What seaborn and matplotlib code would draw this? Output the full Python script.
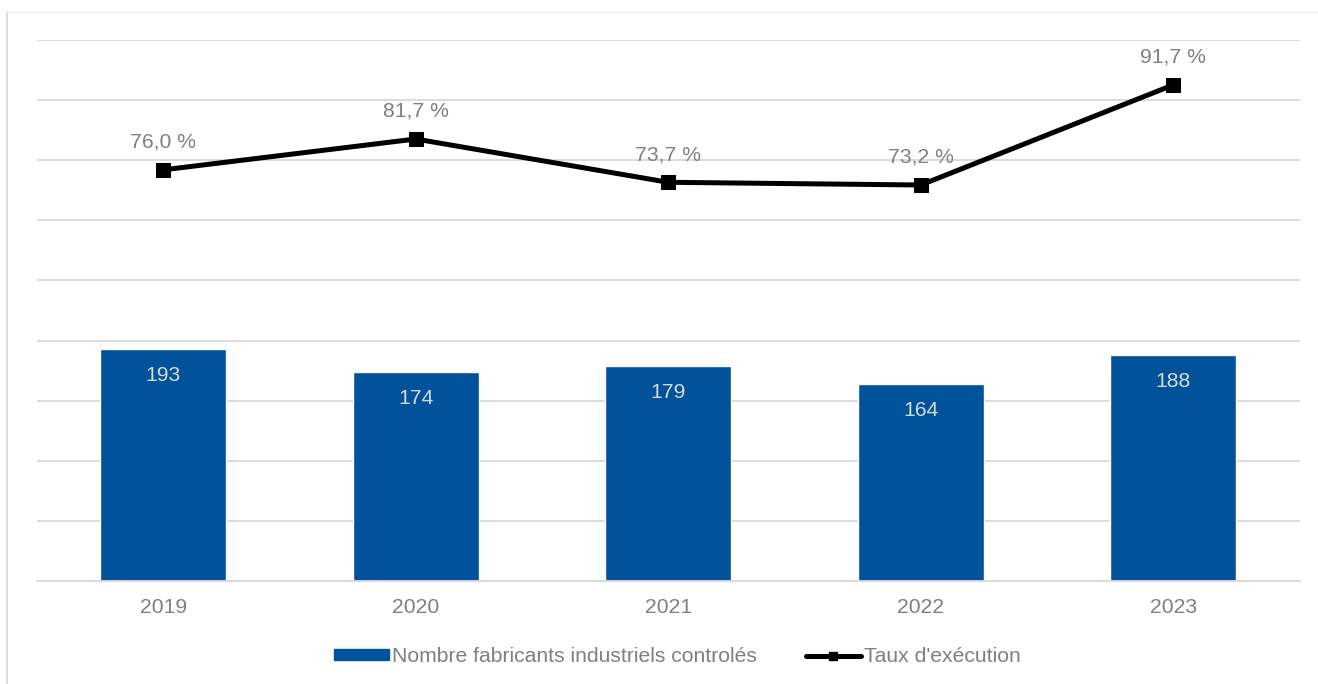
import pandas as pd
import numpy as np
import matplotlib.pyplot as plt
import seaborn as sns
from matplotlib.lines import Line2D
from matplotlib.patches import Patch

annees = ["2019", "2020", "2021", "2022", "2023"]
fabricants = [193, 174, 179, 164, 188]
taux = [76.0, 81.7, 73.7, 73.2, 91.7]

bleu = "#00539B"
gris = "#7F7F86"
fs = 15.2

sns.set_style("white")
plt.rcParams['font.family'] = ['Liberation Sans', 'DejaVu Sans']

fig = plt.figure(figsize=(13.18, 6.84), dpi=100)
ax = fig.add_axes([0.028, 0.1506, 0.958, 0.7909])

df = pd.DataFrame({"annee": annees, "fabricants": fabricants, "taux": taux})
sns.barplot(data=df, x="annee", y="fabricants", color=bleu, width=0.5,
            saturation=1, ax=ax, zorder=2)
ax.set_xlim(-0.5, len(annees) - 0.5)
ax.set_ylim(0, 450)
ax.set_yticks(np.arange(0, 451, 50))
ax.yaxis.grid(True, color="#D9D9D9", linewidth=1.3, zorder=0)
ax.set_axisbelow(True)
ax.tick_params(axis="y", left=False, labelleft=False, length=0)
ax.tick_params(axis="x", bottom=False, labelsize=fs, labelcolor=gris, pad=12, length=0)
ax.set_xlabel("")
ax.set_ylabel("")
for s in ["top", "right", "left"]:
    ax.spines[s].set_visible(False)
ax.spines["bottom"].set_color("#D9D9D9")
ax.spines["bottom"].set_linewidth(1.3)

# étiquettes dans les barres
for i, v in enumerate(fabricants):
    ax.annotate(str(v), (i, v), xytext=(0, -19), textcoords="offset points",
                ha="center", va="center", fontsize=fs, color="#D9D9D9")

ax2 = ax.twinx()
sns.lineplot(x=range(len(annees)), y=taux, ax=ax2, color="black", linewidth=3.6,
             marker="s", markersize=10, markeredgecolor="black")
ax2.set_ylim(0, 100)
ax2.set_xlim(ax.get_xlim())
ax2.axis("off")
for i, v in enumerate(taux):
    ax2.annotate(f"{v:.1f} %".replace(".", ","), (i, v), xytext=(0, 20),
                 textcoords="offset points", ha="center", va="center",
                 fontsize=fs, color=gris)

handles = [Patch(facecolor=bleu, edgecolor=bleu),
           Line2D([0], [0], color="black", linewidth=3.6, marker="s", markersize=6)]
fig.legend(handles, ["Nombre fabricants industriels controlés", "Taux d'exécution"],
           loc="center", bbox_to_anchor=(0.514, 0.04), ncol=2, frameon=False,
           fontsize=fs, labelcolor=gris, handlelength=2.6, handleheight=0.45,
           handletextpad=0.15, columnspacing=2.3)

# cadre du graphique
fig.add_artist(Line2D([7 / 1318, 7 / 1318], [0, 1 - 12 / 684], transform=fig.transFigure,
                      color="#D9D9D9", linewidth=1.3))
fig.add_artist(Line2D([7 / 1318, 1], [1 - 12 / 684, 1 - 12 / 684], transform=fig.transFigure,
                      color="#EFEFEF", linewidth=1.0))

fig.savefig("out.png", dpi=100)
